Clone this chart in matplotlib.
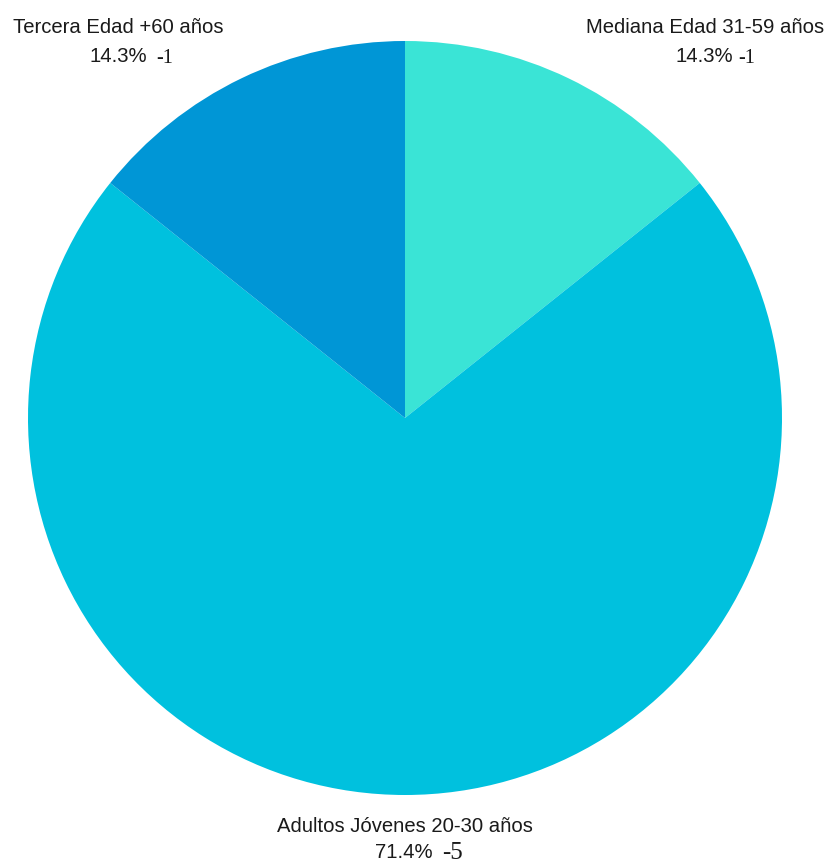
import matplotlib.pyplot as plt

categories = ['Mediana Edad 31-59 años', 'Adultos Jóvenes 20-30 años', 'Tercera Edad +60 años']
counts = [1, 5, 1]
colors = ['#3ae4d6', '#00c1de', '#0096d6']

W, H = 828, 863
fig = plt.figure(figsize=(W / 100, H / 100), dpi=100)
ax = fig.add_axes([28 / W, 1 - 795 / H, 754 / W, 754 / H])
ax.pie(counts, colors=colors, startangle=90, counterclock=False, radius=1,
       wedgeprops={'linewidth': 0})
ax.set_xlim(-1, 1)
ax.set_ylim(-1, 1)
ax.set_aspect('equal')
ax.axis('off')

total = sum(counts)
pcts = ['%.1f%%' % (100 * c / total) for c in counts]

sans = 'Liberation Sans'
serif = 'Liberation Serif'

def px(x, y):
    return x / W, 1 - y / H

# label positions (pixel): name centre x, name baseline, pct right edge, pct baseline, count size
layout = [
    (705, 33, 733, 62, 14.5),
    (405, 832, 433, 858, 18),
    (118, 33, 147, 62, 14.5),
]

for i, (cx, ny, pr, py, cs) in enumerate(layout):
    fig.text(*px(cx, ny), categories[i], ha='center', va='baseline',
             fontsize=14.6, family=sans, color='#1a1a1a')
    fig.text(*px(pr, py), pcts[i], ha='right', va='baseline',
             fontsize=14.6, family=sans, color='#1a1a1a')
    gap = 5 if i == 0 else 9
    fig.text(*px(pr + gap, py + 1), '-%d' % counts[i], ha='left', va='baseline',
             fontsize=cs, family=serif, color='#1a1a1a')

fig.savefig('out.png', dpi=100)
